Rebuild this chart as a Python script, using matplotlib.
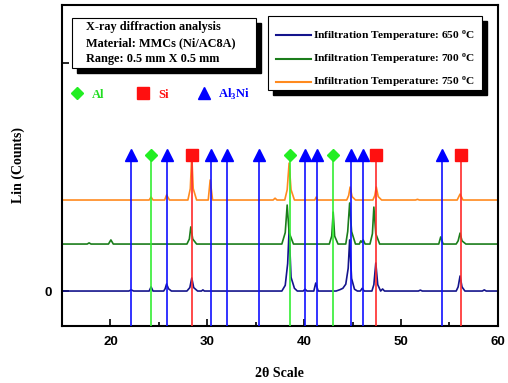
import numpy as np
import matplotlib.pyplot as plt
from matplotlib.patches import Rectangle

plt.rcParams['font.family'] = 'Liberation Serif'
plt.rcParams['font.weight'] = 'bold'
plt.rcParams['mathtext.fontset'] = 'custom'
plt.rcParams['mathtext.rm'] = 'Liberation Serif:bold'

################################################################################
# Pattern vertices (2theta, counts above own baseline)
x_650 = [15.0, 21.9, 22.15, 22.4, 24.0, 24.2, 24.4, 25.5, 25.65, 25.8, 26.0, 26.3,
         27.9, 28.2, 28.4, 28.6, 29.0, 29.4, 29.55, 29.7, 37.7, 38.05, 38.3, 38.45,
         38.65, 39.0, 39.3, 39.9, 40.1, 40.3, 41.0, 41.2, 41.45, 43.3, 43.7, 44.0,
         44.3, 44.55, 44.7, 44.9, 45.2, 45.5, 45.8, 46.0, 46.2, 47.0, 47.2, 47.4,
         47.6, 47.9, 48.1, 48.3, 51.8, 52.0, 52.2, 55.7, 55.9, 56.1, 56.3, 56.6,
         58.4, 58.6, 58.8, 60.0]
y_650 = [0, 0, 5, 0, 0, 18, 0, 0, 10, 31, 10, 0,
         0, 15, 57, 15, 0, 0, 5, 0, 0, 25, 120, 268,
         60, 12, 0, 0, 8, 0, 0, 35, 0, 0, 6, 12,
         30, 100, 224, 55, 8, 0, 0, 12, 0, 0, 28, 123,
         28, 0, 9, 0, 0, 4, 0, 0, 18, 66, 18, 0,
         0, 5, 0, 0]

x_700 = [15.0, 17.6, 17.8, 18.0, 19.8, 20.05, 20.3, 27.9, 28.15, 28.3, 28.5, 28.9,
         37.7, 38.05, 38.25, 38.45, 38.9, 42.6, 42.85, 43.0, 43.15, 43.5, 44.3, 44.5,
         44.7, 44.9, 45.3, 45.7, 45.85, 45.95, 46.1, 46.3, 46.8, 47.05, 47.2, 47.4,
         47.8, 53.9, 54.1, 54.35, 55.7, 55.9, 56.1, 56.3, 56.7, 60.0]
y_700 = [0, 0, 5, 0, 0, 18, 0, 0, 22, 75, 22, 0,
         0, 50, 171, 50, 0, 0, 35, 140, 35, 0, 0, 55,
         180, 55, 0, 0, 14, 8, 18, 0, 0, 45, 162, 45,
         0, 0, 31, 0, 0, 14, 48, 14, 0, 0]

x_750 = [15.0, 24.0, 24.2, 24.4, 25.6, 25.8, 26.1, 28.0, 28.25, 28.4, 28.55, 28.9,
         30.1, 30.3, 30.55, 36.8, 37.0, 37.2, 38.0, 38.25, 38.45, 38.65, 39.0, 41.1,
         41.25, 41.4, 44.4, 44.6, 44.75, 44.95, 45.3, 47.1, 47.3, 47.45, 47.65, 48.0,
         51.5, 51.7, 51.9, 55.8, 56.1, 56.4, 60.0]
y_750 = [0, 0, 13, 0, 0, 22, 0, 0, 50, 197, 50, 0,
         0, 88, 0, 0, 8, 0, 0, 45, 162, 45, 0, 0,
         13, 0, 0, 20, 57, 15, 0, 0, 20, 57, 15, 0,
         0, 3, 0, 0, 26, 0, 0]

offsets = [0, 206, 399]
labels = ['Infiltration Temperature: 650 $^{\\rm o}$C',
          'Infiltration Temperature: 700 $^{\\rm o}$C',
          'Infiltration Temperature: 750 $^{\\rm o}$C']
colors = ['#14148c', '#1b7d1b', '#ff8a1e']

# phase reference positions
pos_al = [24.2, 38.5, 43.0]
pos_si = [28.4, 47.4, 56.2]
pos_al3ni = [22.15, 25.8, 30.4, 32.0, 35.3, 40.1, 41.3, 44.8, 46.1, 54.2]
marker_y = 596

################################################################################
fig = plt.figure(figsize=(5.08, 3.83), dpi=100)
ax = fig.add_axes([0.122, 0.149, 0.858, 0.838])

xs = [x_650, x_700, x_750]
ys = [y_650, y_700, y_750]
for x, y, off, c in zip(xs, ys, offsets, colors):
    ax.plot(x, np.array(y) + off, color=c, lw=1.2, zorder=2)

ylo, yhi = -153, 1254
for p in pos_al:
    ax.plot([p, p], [ylo, marker_y], color='#33ee33', lw=1.2, zorder=3)
    ax.plot(p, marker_y, 'D', color='#22ee22', ms=6.5, zorder=4)
for p in pos_si:
    ax.plot([p, p], [ylo, marker_y], color='#ff2a2a', lw=1.2, zorder=3)
    ax.plot(p, marker_y, 's', color='#ff1010', ms=9, zorder=4)
for p in pos_al3ni:
    ax.plot([p, p], [ylo, marker_y], color='#1010ff', lw=1.2, zorder=3)
    ax.plot(p, marker_y, '^', color='#0000ff', ms=9, zorder=4)

ax.set_xlim(15, 60)
ax.set_ylim(ylo, yhi)
ax.set_xticks([20, 30, 40, 50, 60])
ax.set_xticks([25, 35, 45, 55], minor=True)
ax.set_yticks([0, 1000])
ax.set_yticklabels(['0', ''])
ax.tick_params(which='both', direction='in', width=1.2, labelsize=9.5, pad=7)
ax.tick_params(which='major', length=5)
ax.tick_params(which='minor', length=3)
for lab in ax.get_xticklabels() + ax.get_yticklabels():
    lab.set_fontfamily('Liberation Sans')
    lab.set_fontweight('bold')
for s in ax.spines.values():
    s.set_linewidth(1.5)

ax.set_xlabel('2\u03b8 Scale', fontsize=10, fontweight='bold', labelpad=14)
ax.set_ylabel('Lin (Counts)', fontsize=10, fontweight='bold', labelpad=14)

# info box with shadow
T = ax.transAxes
dx, dy = 5 / 436, 5 / 321
ax.add_patch(Rectangle((0.023 + dx, 0.804 - dy), 0.422, 0.156, transform=T,
                       facecolor='black', edgecolor='black', zorder=5))
ax.add_patch(Rectangle((0.023, 0.804), 0.422, 0.156, transform=T,
                       facecolor='white', edgecolor='black', lw=0.8, zorder=6))
info = ['X-ray diffraction analysis', 'Material: MMCs (Ni/AC8A)', 'Range: 0.5 mm X 0.5 mm']
for i, t in enumerate(info):
    ax.text(0.055, 0.931 - i * 0.049, t, transform=T, fontsize=8.8, va='center', zorder=7)

# legend box with shadow
ax.add_patch(Rectangle((0.472 + dx, 0.735 - dy), 0.491, 0.231, transform=T,
                       facecolor='black', edgecolor='black', zorder=5))
ax.add_patch(Rectangle((0.472, 0.735), 0.491, 0.231, transform=T,
                       facecolor='white', edgecolor='black', lw=0.8, zorder=6))
for i, (lab, c) in enumerate(zip(labels, colors)):
    yy = 0.905 - i * 0.072
    ax.plot([0.491, 0.571], [yy, yy], color=c, lw=1.5, transform=T, zorder=7)
    ax.text(0.577, yy, lab, transform=T, fontsize=8.2, va='center', zorder=7)

# phase key
ax.plot(0.035, 0.726, 'D', color='#22ee22', ms=6.5, transform=T, clip_on=False)
ax.text(0.068, 0.72, 'Al', color='#22dd22', fontsize=9, va='center', transform=T)
ax.plot(0.186, 0.726, 's', color='#ff1010', ms=9, transform=T)
ax.text(0.22, 0.72, 'Si', color='#ff1010', fontsize=9, va='center', transform=T)
ax.plot(0.326, 0.726, '^', color='#0000ff', ms=9, transform=T)
ax.text(0.358, 0.72, 'Al$_{\\rm 3}$Ni', color='#0000ff', fontsize=9, va='center', transform=T)

fig.savefig('out.png', dpi=100)
